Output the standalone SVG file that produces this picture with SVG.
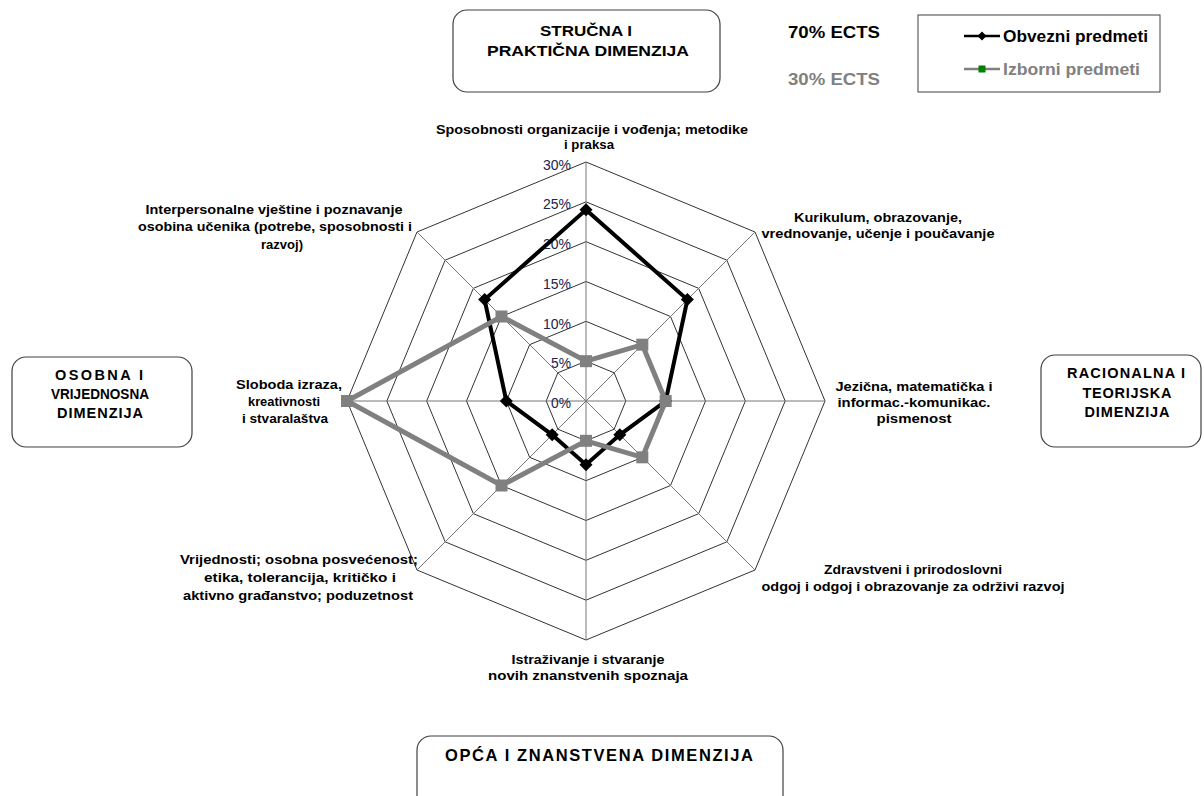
<svg xmlns="http://www.w3.org/2000/svg" xmlns:xlink="http://www.w3.org/1999/xlink" width="1204" height="796" viewBox="0 0 1204 796">
<style>
.lbl{font-family:"Liberation Sans Narrow","Liberation Sans",Arial,sans-serif;font-weight:bold;font-size:13.5px;text-anchor:middle;fill:#000}
.dim{font-family:"Liberation Sans",Arial,sans-serif;font-weight:bold;font-size:14.5px;text-anchor:middle;fill:#000}
.big{font-size:16.5px}
.leg{font-size:17px;text-anchor:start}
.gr{fill:#808080}
.pct{font-family:"Liberation Sans Narrow","Liberation Sans",Arial,sans-serif;font-size:14px;text-anchor:end;fill:#22224d}
.box{fill:#fff;stroke:#404040;stroke-width:1.2}
.ring{fill:none;stroke:#333;stroke-width:1}
.spoke{stroke:#777;stroke-width:1}
</style>
<defs>
<path id="dia" d="M0,-6.5 L6.5,0 L0,6.5 L-6.5,0Z" fill="#000"/>
<rect id="sq" x="-6" y="-6" width="12" height="12" fill="#808080"/>
</defs>
<rect width="1204" height="796" fill="#fff"/>

<g id="grid">
<polygon class="ring" points="586,361.17 614.16,372.84 625.83,401 614.16,429.16 586,440.83 557.84,429.16 546.17,401 557.84,372.84"/>
<polygon class="ring" points="586,321.33 642.33,344.67 665.67,401 642.33,457.33 586,480.67 529.67,457.33 506.33,401 529.67,344.67"/>
<polygon class="ring" points="586,281.5 670.5,316.5 705.5,401 670.5,485.5 586,520.5 501.5,485.5 466.5,401 501.5,316.5"/>
<polygon class="ring" points="586,241.67 698.66,288.34 745.33,401 698.66,513.66 586,560.33 473.34,513.66 426.67,401 473.34,288.34"/>
<polygon class="ring" points="586,201.83 726.83,260.17 785.17,401 726.83,541.83 586,600.17 445.17,541.83 386.83,401 445.17,260.17"/>
<polygon class="ring" points="586,162 755,232 825,401 755,570 586,640 417,570 347,401 417,232"/>
<line class="spoke" x1="586" y1="401" x2="586" y2="162"/>
<line class="spoke" x1="586" y1="401" x2="755" y2="232"/>
<line class="spoke" x1="586" y1="401" x2="825" y2="401"/>
<line class="spoke" x1="586" y1="401" x2="755" y2="570"/>
<line class="spoke" x1="586" y1="401" x2="586" y2="640"/>
<line class="spoke" x1="586" y1="401" x2="417" y2="570"/>
<line class="spoke" x1="586" y1="401" x2="347" y2="401"/>
<line class="spoke" x1="586" y1="401" x2="417" y2="232"/>
</g>

<g id="axis-labels">
<text class="pct" x="571" y="170" textLength="28" lengthAdjust="spacingAndGlyphs">30%</text>
<text class="pct" x="571" y="209" textLength="28" lengthAdjust="spacingAndGlyphs">25%</text>
<text class="pct" x="571" y="249" textLength="28" lengthAdjust="spacingAndGlyphs">20%</text>
<text class="pct" x="571" y="289" textLength="28" lengthAdjust="spacingAndGlyphs">15%</text>
<text class="pct" x="571" y="329" textLength="28" lengthAdjust="spacingAndGlyphs">10%</text>
<text class="pct" x="571" y="368" textLength="20" lengthAdjust="spacingAndGlyphs">5%</text>
<text class="pct" x="571" y="408" textLength="20" lengthAdjust="spacingAndGlyphs">0%</text>
</g>

<g id="connectors">
<polygon id="series-obvezni" points="586,209.8 687.4,299.6 665.67,401 619.8,434.8 586,464.7 552.2,434.8 506.33,401 484.6,299.6" fill="none" stroke="#000" stroke-width="4" stroke-linejoin="miter"/>
<g id="markers-obvezni">
<use xlink:href="#dia" x="586" y="209.8"/>
<use xlink:href="#dia" x="687.4" y="299.6"/>
<use xlink:href="#dia" x="665.67" y="401"/>
<use xlink:href="#dia" x="619.8" y="434.8"/>
<use xlink:href="#dia" x="586" y="464.7"/>
<use xlink:href="#dia" x="552.2" y="434.8"/>
<use xlink:href="#dia" x="506.33" y="401"/>
<use xlink:href="#dia" x="484.6" y="299.6"/>
</g>
<polygon id="series-izborni" points="586,361.17 642.33,344.67 665.67,401 642.33,457.33 586,440.83 501.5,485.5 347,401 501.5,316.5" fill="none" stroke="#808080" stroke-width="5" stroke-linejoin="miter"/>
<g id="markers-izborni">
<use xlink:href="#sq" x="586" y="361.17"/>
<use xlink:href="#sq" x="642.33" y="344.67"/>
<use xlink:href="#sq" x="665.67" y="401"/>
<use xlink:href="#sq" x="642.33" y="457.33"/>
<use xlink:href="#sq" x="586" y="440.83"/>
<use xlink:href="#sq" x="501.5" y="485.5"/>
<use xlink:href="#sq" x="347" y="401"/>
<use xlink:href="#sq" x="501.5" y="316.5"/>
</g>
</g>

<g id="cat-sposobnosti">
<text class="lbl" x="592" y="134" textLength="312" lengthAdjust="spacingAndGlyphs">Sposobnosti organizacije i vođenja; metodike</text>
<text class="lbl" x="589" y="149" textLength="50" lengthAdjust="spacingAndGlyphs">i praksa</text>
</g>
<g id="cat-kurikulum">
<text class="lbl" x="878" y="222" textLength="168" lengthAdjust="spacingAndGlyphs">Kurikulum, obrazovanje,</text>
<text class="lbl" x="878" y="238" textLength="233" lengthAdjust="spacingAndGlyphs">vrednovanje, učenje i poučavanje</text>
</g>
<g id="cat-jezicna">
<text class="lbl" x="914" y="391" textLength="157" lengthAdjust="spacingAndGlyphs">Jezična, matematička i</text>
<text class="lbl" x="914" y="407" textLength="153" lengthAdjust="spacingAndGlyphs">informac.-komunikac.</text>
<text class="lbl" x="914" y="423" textLength="75" lengthAdjust="spacingAndGlyphs">pismenost</text>
</g>
<g id="cat-zdravstveni">
<text class="lbl" x="913" y="574" textLength="178" lengthAdjust="spacingAndGlyphs">Zdravstveni i prirodoslovni</text>
<text class="lbl" x="913" y="591" textLength="303" lengthAdjust="spacingAndGlyphs">odgoj i odgoj i obrazovanje za održivi razvoj</text>
</g>
<g id="cat-istrazivanje">
<text class="lbl" x="588" y="664" textLength="153" lengthAdjust="spacingAndGlyphs">Istraživanje i stvaranje</text>
<text class="lbl" x="588" y="680" textLength="200" lengthAdjust="spacingAndGlyphs">novih znanstvenih spoznaja</text>
</g>
<g id="cat-vrijednosti">
<text class="lbl" x="299" y="564" textLength="238" lengthAdjust="spacingAndGlyphs">Vrijednosti; osobna posvećenost;</text>
<text class="lbl" x="300" y="582" textLength="192" lengthAdjust="spacingAndGlyphs">etika, tolerancija, kritičko i</text>
<text class="lbl" x="298" y="600" textLength="230" lengthAdjust="spacingAndGlyphs">aktivno građanstvo; poduzetnost</text>
</g>
<g id="cat-sloboda">
<text class="lbl" x="289" y="389" textLength="106" lengthAdjust="spacingAndGlyphs">Sloboda izraza,</text>
<text class="lbl" x="284" y="406" textLength="72" lengthAdjust="spacingAndGlyphs">kreativnosti</text>
<text class="lbl" x="285" y="423" textLength="86" lengthAdjust="spacingAndGlyphs">i stvaralaštva</text>
</g>
<g id="cat-interpersonalne">
<text class="lbl" x="274" y="214" textLength="257" lengthAdjust="spacingAndGlyphs">Interpersonalne vještine i poznavanje</text>
<text class="lbl" x="275" y="231" textLength="274" lengthAdjust="spacingAndGlyphs">osobina učenika (potrebe, sposobnosti i</text>
<text class="lbl" x="282" y="249" textLength="42" lengthAdjust="spacingAndGlyphs">razvoj)</text>
</g>

<g id="box-strucna">
<rect class="box" x="453" y="10" width="267" height="82" rx="14"/>
<text class="lbl" x="586" y="36" style="font-size:15px" textLength="92" lengthAdjust="spacingAndGlyphs">STRUČNA I</text>
<text class="lbl" x="588" y="56" style="font-size:15px" textLength="202" lengthAdjust="spacingAndGlyphs">PRAKTIČNA DIMENZIJA</text>
</g>
<g id="box-racionalna">
<rect class="box" x="1041" y="355" width="160" height="92" rx="14"/>
<text class="dim" x="1126" y="378" textLength="118" lengthAdjust="spacing">RACIONALNA  I</text>
<text class="dim" x="1127" y="398" textLength="89" lengthAdjust="spacing">TEORIJSKA</text>
<text class="dim" x="1127" y="417" textLength="85" lengthAdjust="spacing">DIMENZIJA</text>
</g>
<g id="box-osobna">
<rect class="box" x="12" y="357" width="180" height="90" rx="14"/>
<text class="dim" x="99" y="380" textLength="88" lengthAdjust="spacing">OSOBNA I</text>
<text class="dim" x="100" y="399" textLength="98" lengthAdjust="spacingAndGlyphs">VRIJEDNOSNA</text>
<text class="dim" x="100" y="418" textLength="86" lengthAdjust="spacing">DIMENZIJA</text>
</g>
<g id="box-opca">
<rect class="box" x="417" y="736" width="366" height="80" rx="14"/>
<text class="dim" x="599" y="761" style="font-size:16.5px" textLength="308" lengthAdjust="spacing">OPĆA I ZNANSTVENA  DIMENZIJA</text>
</g>

<g id="ects">
<text class="lbl big" x="834" y="38" textLength="92" lengthAdjust="spacingAndGlyphs">70% ECTS</text>
<text class="lbl big gr" x="834" y="85" textLength="92" lengthAdjust="spacingAndGlyphs">30% ECTS</text>
</g>

<g id="legend">
<rect x="918" y="15" width="242" height="77" fill="#fff" stroke="#404040" stroke-width="1"/>
<line x1="964" y1="36" x2="1000" y2="36" stroke="#000" stroke-width="2.5"/>
<path d="M982,31.5 L986.5,36 L982,40.5 L977.5,36Z" fill="#000"/>
<text class="lbl leg" x="1003" y="42" textLength="145" lengthAdjust="spacingAndGlyphs">Obvezni predmeti</text>
<line x1="964" y1="69" x2="1000" y2="69" stroke="#808080" stroke-width="2.5"/>
<rect x="978.5" y="65.5" width="7" height="7" fill="#008000"/>
<text class="lbl leg gr" x="1003" y="75" textLength="137" lengthAdjust="spacingAndGlyphs">Izborni predmeti</text>
</g>
</svg>
